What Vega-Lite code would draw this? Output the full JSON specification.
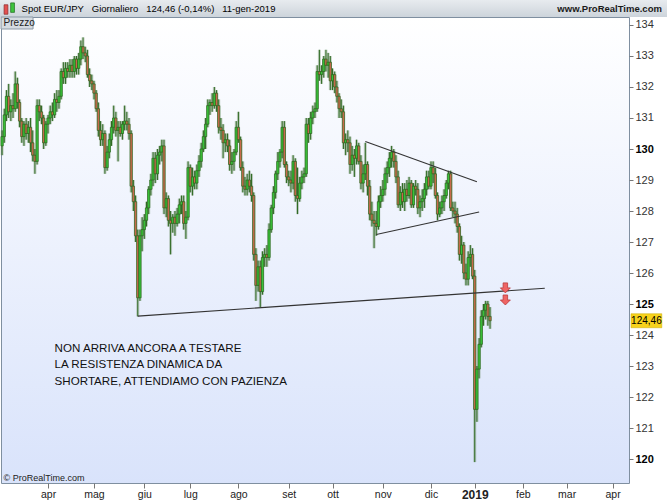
{
  "$schema": "https://vega.github.io/schema/vega-lite/v6.json",
  "width": 628,
  "height": 466,
  "autosize": {"type": "none"},
  "padding": {"left": 1, "top": 17, "right": 38, "bottom": 17},
  "background": "#ffffff",
  "config": {
    "font": "Liberation Sans",
    "view": {
      "stroke": "#7f8fa0",
      "strokeWidth": 1,
      "fill": {"gradient": "linear", "x1": 0, "y1": 0, "x2": 0, "y2": 1, "stops": [{"offset": 0, "color": "#ffffff"}, {"offset": 1, "color": "#d9e3fb"}]}
    }
  },
  "datasets": {
    "ohlc": [
      {"d":"2018-03-02","o":130.1,"h":130.6,"l":129.8,"c":130.4},
      {"d":"2018-03-05","o":130.4,"h":131.3,"l":130.2,"c":131.1},
      {"d":"2018-03-06","o":131.1,"h":131.9,"l":130.9,"c":131.7},
      {"d":"2018-03-07","o":131.7,"h":132.1,"l":131.0,"c":131.2},
      {"d":"2018-03-08","o":131.2,"h":131.6,"l":130.9,"c":131.4},
      {"d":"2018-03-09","o":131.4,"h":131.8,"l":131.0,"c":131.3},
      {"d":"2018-03-12","o":131.3,"h":132.5,"l":131.2,"c":132.1},
      {"d":"2018-03-13","o":132.1,"h":132.3,"l":131.3,"c":131.5},
      {"d":"2018-03-14","o":131.5,"h":131.6,"l":130.7,"c":130.9},
      {"d":"2018-03-15","o":130.9,"h":131.0,"l":130.2,"c":130.4},
      {"d":"2018-03-16","o":130.4,"h":130.9,"l":130.1,"c":130.8},
      {"d":"2018-03-19","o":130.8,"h":131.0,"l":130.3,"c":130.5},
      {"d":"2018-03-20","o":130.5,"h":130.9,"l":130.2,"c":130.7},
      {"d":"2018-03-21","o":130.7,"h":131.0,"l":129.9,"c":130.2},
      {"d":"2018-03-22","o":130.2,"h":130.6,"l":129.6,"c":129.8},
      {"d":"2018-03-23","o":129.8,"h":130.0,"l":129.2,"c":129.6},
      {"d":"2018-03-26","o":129.6,"h":131.6,"l":129.5,"c":131.4},
      {"d":"2018-03-27","o":131.4,"h":131.6,"l":130.9,"c":131.2},
      {"d":"2018-03-28","o":131.2,"h":131.4,"l":130.8,"c":131.0},
      {"d":"2018-03-29","o":131.0,"h":131.1,"l":130.0,"c":130.2},
      {"d":"2018-03-30","o":130.2,"h":130.9,"l":130.1,"c":130.8},
      {"d":"2018-04-02","o":130.8,"h":131.1,"l":130.5,"c":131.0},
      {"d":"2018-04-03","o":131.0,"h":131.4,"l":130.8,"c":131.2},
      {"d":"2018-04-04","o":131.2,"h":131.5,"l":130.9,"c":131.1},
      {"d":"2018-04-05","o":131.1,"h":131.8,"l":131.0,"c":131.6},
      {"d":"2018-04-06","o":131.6,"h":131.9,"l":131.2,"c":131.5},
      {"d":"2018-04-09","o":131.5,"h":131.9,"l":131.3,"c":131.7},
      {"d":"2018-04-10","o":131.7,"h":132.6,"l":131.6,"c":132.5},
      {"d":"2018-04-11","o":132.5,"h":132.8,"l":132.1,"c":132.3},
      {"d":"2018-04-12","o":132.3,"h":132.8,"l":132.1,"c":132.6},
      {"d":"2018-04-13","o":132.6,"h":132.8,"l":132.3,"c":132.5},
      {"d":"2018-04-16","o":132.5,"h":132.9,"l":132.3,"c":132.7},
      {"d":"2018-04-17","o":132.7,"h":132.9,"l":132.3,"c":132.5},
      {"d":"2018-04-18","o":132.5,"h":133.0,"l":132.3,"c":132.9},
      {"d":"2018-04-19","o":132.9,"h":133.0,"l":132.4,"c":132.6},
      {"d":"2018-04-20","o":132.6,"h":133.1,"l":132.4,"c":132.9},
      {"d":"2018-04-23","o":132.9,"h":133.5,"l":132.7,"c":133.3},
      {"d":"2018-04-24","o":133.3,"h":133.6,"l":132.9,"c":133.1},
      {"d":"2018-04-25","o":133.1,"h":133.3,"l":132.8,"c":133.0},
      {"d":"2018-04-26","o":133.0,"h":133.2,"l":132.3,"c":132.4},
      {"d":"2018-04-27","o":132.4,"h":132.6,"l":132.0,"c":132.2},
      {"d":"2018-04-30","o":132.2,"h":132.4,"l":131.9,"c":132.1},
      {"d":"2018-05-01","o":132.1,"h":132.2,"l":131.6,"c":131.8},
      {"d":"2018-05-02","o":131.8,"h":131.9,"l":131.2,"c":131.3},
      {"d":"2018-05-03","o":131.3,"h":131.5,"l":130.4,"c":130.6},
      {"d":"2018-05-04","o":130.6,"h":130.9,"l":130.1,"c":130.3},
      {"d":"2018-05-07","o":130.3,"h":130.8,"l":130.1,"c":130.5},
      {"d":"2018-05-08","o":130.5,"h":130.6,"l":129.2,"c":129.4},
      {"d":"2018-05-09","o":129.4,"h":130.1,"l":129.3,"c":129.9},
      {"d":"2018-05-10","o":129.9,"h":130.5,"l":129.7,"c":130.3},
      {"d":"2018-05-11","o":130.3,"h":130.9,"l":130.1,"c":130.7},
      {"d":"2018-05-14","o":130.7,"h":131.4,"l":130.5,"c":131.0},
      {"d":"2018-05-15","o":131.0,"h":131.2,"l":130.4,"c":130.6},
      {"d":"2018-05-16","o":130.6,"h":130.9,"l":129.6,"c":130.7},
      {"d":"2018-05-17","o":130.7,"h":130.9,"l":130.4,"c":130.5},
      {"d":"2018-05-18","o":130.5,"h":130.9,"l":130.3,"c":130.8},
      {"d":"2018-05-21","o":130.8,"h":131.4,"l":130.6,"c":130.9},
      {"d":"2018-05-22","o":130.9,"h":131.2,"l":130.6,"c":130.8},
      {"d":"2018-05-23","o":130.8,"h":131.0,"l":130.3,"c":130.5},
      {"d":"2018-05-24","o":130.5,"h":130.6,"l":128.6,"c":128.8},
      {"d":"2018-05-25","o":128.8,"h":129.0,"l":128.0,"c":128.3},
      {"d":"2018-05-28","o":128.3,"h":128.5,"l":127.0,"c":127.2},
      {"d":"2018-05-29","o":127.2,"h":127.4,"l":124.6,"c":125.2},
      {"d":"2018-05-30","o":125.2,"h":127.4,"l":125.1,"c":127.2},
      {"d":"2018-05-31","o":127.2,"h":127.8,"l":126.7,"c":127.4},
      {"d":"2018-06-01","o":127.4,"h":127.9,"l":127.1,"c":127.7},
      {"d":"2018-06-04","o":127.7,"h":128.3,"l":127.5,"c":128.1},
      {"d":"2018-06-05","o":128.1,"h":128.8,"l":127.9,"c":128.7},
      {"d":"2018-06-06","o":128.7,"h":129.2,"l":128.5,"c":129.0},
      {"d":"2018-06-07","o":129.0,"h":129.9,"l":128.8,"c":129.7},
      {"d":"2018-06-08","o":129.7,"h":129.9,"l":128.9,"c":129.2},
      {"d":"2018-06-11","o":129.2,"h":130.0,"l":129.0,"c":129.8},
      {"d":"2018-06-12","o":129.8,"h":130.1,"l":129.5,"c":129.9},
      {"d":"2018-06-13","o":129.9,"h":130.3,"l":129.6,"c":130.1},
      {"d":"2018-06-14","o":130.1,"h":130.3,"l":127.9,"c":128.1},
      {"d":"2018-06-15","o":128.1,"h":128.6,"l":127.8,"c":128.4},
      {"d":"2018-06-18","o":128.4,"h":128.5,"l":127.5,"c":127.7},
      {"d":"2018-06-19","o":127.7,"h":128.0,"l":126.6,"c":127.6},
      {"d":"2018-06-20","o":127.6,"h":127.9,"l":127.3,"c":127.8},
      {"d":"2018-06-21","o":127.8,"h":128.0,"l":127.2,"c":127.6},
      {"d":"2018-06-22","o":127.6,"h":128.1,"l":127.5,"c":127.9},
      {"d":"2018-06-25","o":127.9,"h":128.4,"l":127.6,"c":128.2},
      {"d":"2018-06-26","o":128.2,"h":128.5,"l":127.9,"c":128.3},
      {"d":"2018-06-27","o":128.3,"h":128.5,"l":127.4,"c":127.6},
      {"d":"2018-06-28","o":127.6,"h":128.0,"l":127.1,"c":127.8},
      {"d":"2018-06-29","o":127.8,"h":129.6,"l":127.7,"c":129.4},
      {"d":"2018-07-02","o":129.4,"h":129.5,"l":128.6,"c":128.8},
      {"d":"2018-07-03","o":128.8,"h":129.4,"l":128.5,"c":129.1},
      {"d":"2018-07-04","o":129.1,"h":129.3,"l":128.7,"c":128.9},
      {"d":"2018-07-05","o":128.9,"h":129.5,"l":128.7,"c":129.3},
      {"d":"2018-07-06","o":129.3,"h":129.8,"l":129.1,"c":129.6},
      {"d":"2018-07-09","o":129.6,"h":130.2,"l":129.4,"c":130.0},
      {"d":"2018-07-10","o":130.0,"h":130.6,"l":129.9,"c":130.4},
      {"d":"2018-07-11","o":130.4,"h":131.0,"l":130.0,"c":130.8},
      {"d":"2018-07-12","o":130.8,"h":131.6,"l":130.7,"c":131.4},
      {"d":"2018-07-13","o":131.4,"h":131.6,"l":131.1,"c":131.5},
      {"d":"2018-07-16","o":131.5,"h":131.8,"l":131.2,"c":131.4},
      {"d":"2018-07-17","o":131.4,"h":132.0,"l":131.3,"c":131.8},
      {"d":"2018-07-18","o":131.8,"h":131.9,"l":131.2,"c":131.4},
      {"d":"2018-07-19","o":131.4,"h":131.6,"l":130.5,"c":130.7},
      {"d":"2018-07-20","o":130.7,"h":131.0,"l":130.3,"c":130.6},
      {"d":"2018-07-23","o":130.6,"h":130.8,"l":129.7,"c":130.2},
      {"d":"2018-07-24","o":130.2,"h":130.5,"l":129.9,"c":130.3},
      {"d":"2018-07-25","o":130.3,"h":130.5,"l":129.9,"c":130.1},
      {"d":"2018-07-26","o":130.1,"h":130.3,"l":129.3,"c":129.5},
      {"d":"2018-07-27","o":129.5,"h":129.9,"l":129.2,"c":129.6},
      {"d":"2018-07-30","o":129.6,"h":130.0,"l":129.3,"c":129.9},
      {"d":"2018-07-31","o":129.9,"h":130.9,"l":129.8,"c":130.7},
      {"d":"2018-08-01","o":130.7,"h":131.2,"l":130.2,"c":130.3},
      {"d":"2018-08-02","o":130.3,"h":130.4,"l":129.3,"c":129.4},
      {"d":"2018-08-03","o":129.4,"h":129.6,"l":128.6,"c":128.8},
      {"d":"2018-08-06","o":128.8,"h":129.1,"l":128.5,"c":128.7},
      {"d":"2018-08-07","o":128.7,"h":129.2,"l":128.5,"c":129.0},
      {"d":"2018-08-08","o":129.0,"h":129.3,"l":128.6,"c":128.8},
      {"d":"2018-08-09","o":128.8,"h":129.2,"l":128.3,"c":128.5},
      {"d":"2018-08-10","o":128.5,"h":128.6,"l":126.4,"c":126.6},
      {"d":"2018-08-13","o":126.6,"h":126.8,"l":125.1,"c":125.6},
      {"d":"2018-08-14","o":125.6,"h":126.4,"l":125.4,"c":126.2},
      {"d":"2018-08-15","o":126.2,"h":126.4,"l":124.9,"c":125.4},
      {"d":"2018-08-16","o":125.4,"h":126.7,"l":125.3,"c":126.5},
      {"d":"2018-08-17","o":126.5,"h":126.8,"l":126.2,"c":126.6},
      {"d":"2018-08-20","o":126.6,"h":126.9,"l":126.2,"c":126.5},
      {"d":"2018-08-21","o":126.5,"h":127.6,"l":126.4,"c":127.4},
      {"d":"2018-08-22","o":127.4,"h":128.2,"l":127.3,"c":128.1},
      {"d":"2018-08-23","o":128.1,"h":128.8,"l":127.9,"c":128.6},
      {"d":"2018-08-24","o":128.6,"h":129.3,"l":128.4,"c":129.2},
      {"d":"2018-08-27","o":129.2,"h":129.9,"l":129.0,"c":129.6},
      {"d":"2018-08-28","o":129.6,"h":130.0,"l":129.4,"c":129.9},
      {"d":"2018-08-29","o":129.9,"h":130.9,"l":129.7,"c":130.7},
      {"d":"2018-08-30","o":130.7,"h":130.9,"l":129.4,"c":129.5},
      {"d":"2018-08-31","o":129.5,"h":129.6,"l":128.9,"c":129.1},
      {"d":"2018-09-03","o":129.1,"h":129.3,"l":128.8,"c":129.0},
      {"d":"2018-09-04","o":129.0,"h":129.3,"l":128.6,"c":128.9},
      {"d":"2018-09-05","o":128.9,"h":129.8,"l":128.7,"c":129.6},
      {"d":"2018-09-06","o":129.6,"h":129.7,"l":128.3,"c":128.5},
      {"d":"2018-09-07","o":128.5,"h":129.4,"l":127.9,"c":128.4},
      {"d":"2018-09-10","o":128.4,"h":129.1,"l":128.3,"c":128.9},
      {"d":"2018-09-11","o":128.9,"h":129.3,"l":128.7,"c":129.1},
      {"d":"2018-09-12","o":129.1,"h":129.4,"l":128.9,"c":129.2},
      {"d":"2018-09-13","o":129.2,"h":131.0,"l":129.1,"c":130.8},
      {"d":"2018-09-14","o":130.8,"h":131.0,"l":130.2,"c":130.5},
      {"d":"2018-09-17","o":130.5,"h":131.2,"l":130.3,"c":131.0},
      {"d":"2018-09-18","o":131.0,"h":131.4,"l":130.8,"c":131.2},
      {"d":"2018-09-19","o":131.2,"h":131.5,"l":131.0,"c":131.3},
      {"d":"2018-09-20","o":131.3,"h":132.7,"l":131.2,"c":132.5},
      {"d":"2018-09-21","o":132.5,"h":133.2,"l":132.2,"c":132.4},
      {"d":"2018-09-24","o":132.4,"h":132.7,"l":132.1,"c":132.5},
      {"d":"2018-09-25","o":132.5,"h":133.0,"l":132.3,"c":132.9},
      {"d":"2018-09-26","o":132.9,"h":133.2,"l":132.5,"c":132.7},
      {"d":"2018-09-27","o":132.7,"h":133.1,"l":132.3,"c":132.8},
      {"d":"2018-09-28","o":132.8,"h":133.0,"l":131.9,"c":132.2},
      {"d":"2018-10-01","o":132.2,"h":132.6,"l":131.9,"c":132.4},
      {"d":"2018-10-02","o":132.4,"h":132.5,"l":131.8,"c":132.0},
      {"d":"2018-10-03","o":132.0,"h":132.2,"l":131.5,"c":131.7},
      {"d":"2018-10-04","o":131.7,"h":131.8,"l":131.0,"c":131.3},
      {"d":"2018-10-05","o":131.3,"h":131.6,"l":131.0,"c":131.2},
      {"d":"2018-10-08","o":131.2,"h":131.4,"l":130.0,"c":130.2},
      {"d":"2018-10-09","o":130.2,"h":130.5,"l":129.8,"c":130.3},
      {"d":"2018-10-10","o":130.3,"h":130.6,"l":129.9,"c":130.2},
      {"d":"2018-10-11","o":130.2,"h":130.4,"l":129.2,"c":129.5},
      {"d":"2018-10-12","o":129.5,"h":130.1,"l":129.3,"c":129.8},
      {"d":"2018-10-15","o":129.8,"h":130.0,"l":129.1,"c":129.7},
      {"d":"2018-10-16","o":129.7,"h":130.3,"l":129.5,"c":130.1},
      {"d":"2018-10-17","o":130.1,"h":130.2,"l":129.5,"c":129.6},
      {"d":"2018-10-18","o":129.6,"h":129.8,"l":128.7,"c":128.9},
      {"d":"2018-10-19","o":128.9,"h":129.5,"l":128.6,"c":129.2},
      {"d":"2018-10-22","o":129.2,"h":130.2,"l":129.0,"c":129.5},
      {"d":"2018-10-23","o":129.5,"h":129.6,"l":128.5,"c":128.8},
      {"d":"2018-10-24","o":128.8,"h":129.0,"l":127.7,"c":127.9},
      {"d":"2018-10-25","o":127.9,"h":128.3,"l":127.5,"c":127.7},
      {"d":"2018-10-26","o":127.7,"h":128.0,"l":126.8,"c":127.6},
      {"d":"2018-10-29","o":127.6,"h":128.0,"l":127.2,"c":127.5},
      {"d":"2018-10-30","o":127.5,"h":128.5,"l":127.4,"c":128.3},
      {"d":"2018-10-31","o":128.3,"h":128.8,"l":128.1,"c":128.5},
      {"d":"2018-11-01","o":128.5,"h":129.0,"l":128.3,"c":128.7},
      {"d":"2018-11-02","o":128.7,"h":129.4,"l":128.5,"c":129.2},
      {"d":"2018-11-05","o":129.2,"h":129.6,"l":128.9,"c":129.4},
      {"d":"2018-11-06","o":129.4,"h":129.9,"l":129.1,"c":129.7},
      {"d":"2018-11-07","o":129.7,"h":130.1,"l":129.4,"c":129.9},
      {"d":"2018-11-08","o":129.9,"h":130.0,"l":129.4,"c":129.6},
      {"d":"2018-11-09","o":129.6,"h":129.8,"l":128.9,"c":129.1},
      {"d":"2018-11-12","o":129.1,"h":129.3,"l":128.1,"c":128.2},
      {"d":"2018-11-13","o":128.2,"h":128.8,"l":128.0,"c":128.6},
      {"d":"2018-11-14","o":128.6,"h":128.9,"l":128.1,"c":128.3},
      {"d":"2018-11-15","o":128.3,"h":128.9,"l":128.0,"c":128.7},
      {"d":"2018-11-16","o":128.7,"h":129.0,"l":128.3,"c":128.5},
      {"d":"2018-11-19","o":128.5,"h":129.1,"l":128.4,"c":128.9},
      {"d":"2018-11-20","o":128.9,"h":129.0,"l":128.1,"c":128.2},
      {"d":"2018-11-21","o":128.2,"h":128.9,"l":128.1,"c":128.8},
      {"d":"2018-11-22","o":128.8,"h":129.0,"l":128.5,"c":128.7},
      {"d":"2018-11-23","o":128.7,"h":128.9,"l":127.9,"c":128.1},
      {"d":"2018-11-26","o":128.1,"h":128.5,"l":127.8,"c":128.3},
      {"d":"2018-11-27","o":128.3,"h":128.7,"l":128.0,"c":128.4},
      {"d":"2018-11-28","o":128.4,"h":128.9,"l":128.1,"c":128.7},
      {"d":"2018-11-29","o":128.7,"h":129.3,"l":128.5,"c":129.1},
      {"d":"2018-11-30","o":129.1,"h":129.3,"l":128.7,"c":128.8},
      {"d":"2018-12-03","o":128.8,"h":129.6,"l":128.7,"c":129.4},
      {"d":"2018-12-04","o":129.4,"h":129.6,"l":128.9,"c":129.2},
      {"d":"2018-12-05","o":129.2,"h":129.4,"l":128.4,"c":128.5},
      {"d":"2018-12-06","o":128.5,"h":128.6,"l":127.7,"c":127.9},
      {"d":"2018-12-07","o":127.9,"h":128.3,"l":127.8,"c":128.1},
      {"d":"2018-12-10","o":128.1,"h":128.5,"l":127.9,"c":128.3},
      {"d":"2018-12-11","o":128.3,"h":128.7,"l":128.0,"c":128.5},
      {"d":"2018-12-12","o":128.5,"h":129.0,"l":128.4,"c":128.9},
      {"d":"2018-12-13","o":128.9,"h":129.3,"l":128.7,"c":129.2},
      {"d":"2018-12-14","o":129.2,"h":129.3,"l":128.0,"c":128.1},
      {"d":"2018-12-17","o":128.1,"h":128.3,"l":127.8,"c":128.0},
      {"d":"2018-12-18","o":128.0,"h":128.3,"l":127.6,"c":127.9},
      {"d":"2018-12-19","o":127.9,"h":128.1,"l":127.3,"c":127.5},
      {"d":"2018-12-20","o":127.5,"h":127.6,"l":126.4,"c":126.6},
      {"d":"2018-12-21","o":126.6,"h":127.2,"l":126.3,"c":126.9},
      {"d":"2018-12-24","o":126.9,"h":127.0,"l":125.8,"c":126.0},
      {"d":"2018-12-26","o":126.0,"h":126.3,"l":125.6,"c":125.8},
      {"d":"2018-12-27","o":125.8,"h":126.7,"l":125.6,"c":126.5},
      {"d":"2018-12-28","o":126.5,"h":126.9,"l":126.2,"c":126.6},
      {"d":"2018-12-31","o":126.6,"h":126.8,"l":125.8,"c":125.9},
      {"d":"2019-01-02","o":125.9,"h":126.1,"l":119.9,"c":121.6},
      {"d":"2019-01-03","o":121.6,"h":123.0,"l":121.2,"c":122.9},
      {"d":"2019-01-04","o":122.9,"h":123.9,"l":122.6,"c":123.7},
      {"d":"2019-01-07","o":123.7,"h":124.8,"l":123.6,"c":124.6},
      {"d":"2019-01-08","o":124.6,"h":125.0,"l":124.3,"c":124.8},
      {"d":"2019-01-09","o":124.8,"h":125.1,"l":124.5,"c":125.0},
      {"d":"2019-01-10","o":125.0,"h":125.1,"l":124.3,"c":124.6},
      {"d":"2019-01-11","o":124.6,"h":124.9,"l":124.2,"c":124.46}
    ],
    "lines": [
      {"g":"supporto","d":"2018-05-29","p":124.61},
      {"g":"supporto","d":"2019-02-15","p":125.51},
      {"g":"alto","d":"2018-10-22","p":130.24},
      {"g":"alto","d":"2019-01-03","p":128.945},
      {"g":"basso","d":"2018-10-29","p":127.24},
      {"g":"basso","d":"2019-01-04","p":127.97}
    ],
    "arrows": [
      {"d":"2019-01-22","p":125.52},
      {"d":"2019-01-22","p":125.13}
    ]
  },
  "encoding": {
    "x": {
      "field": "d",
      "type": "ordinal",
      "scale": {
        "type": "point",
        "padding": 0.5,
        "domain": [
          "2018-03-02","2018-03-05","2018-03-06","2018-03-07","2018-03-08","2018-03-09","2018-03-12","2018-03-13","2018-03-14","2018-03-15","2018-03-16","2018-03-19","2018-03-20","2018-03-21","2018-03-22","2018-03-23","2018-03-26","2018-03-27","2018-03-28","2018-03-29","2018-03-30",
          "2018-04-02","2018-04-03","2018-04-04","2018-04-05","2018-04-06","2018-04-09","2018-04-10","2018-04-11","2018-04-12","2018-04-13","2018-04-16","2018-04-17","2018-04-18","2018-04-19","2018-04-20","2018-04-23","2018-04-24","2018-04-25","2018-04-26","2018-04-27","2018-04-30",
          "2018-05-01","2018-05-02","2018-05-03","2018-05-04","2018-05-07","2018-05-08","2018-05-09","2018-05-10","2018-05-11","2018-05-14","2018-05-15","2018-05-16","2018-05-17","2018-05-18","2018-05-21","2018-05-22","2018-05-23","2018-05-24","2018-05-25","2018-05-28","2018-05-29","2018-05-30","2018-05-31",
          "2018-06-01","2018-06-04","2018-06-05","2018-06-06","2018-06-07","2018-06-08","2018-06-11","2018-06-12","2018-06-13","2018-06-14","2018-06-15","2018-06-18","2018-06-19","2018-06-20","2018-06-21","2018-06-22","2018-06-25","2018-06-26","2018-06-27","2018-06-28","2018-06-29",
          "2018-07-02","2018-07-03","2018-07-04","2018-07-05","2018-07-06","2018-07-09","2018-07-10","2018-07-11","2018-07-12","2018-07-13","2018-07-16","2018-07-17","2018-07-18","2018-07-19","2018-07-20","2018-07-23","2018-07-24","2018-07-25","2018-07-26","2018-07-27","2018-07-30","2018-07-31",
          "2018-08-01","2018-08-02","2018-08-03","2018-08-06","2018-08-07","2018-08-08","2018-08-09","2018-08-10","2018-08-13","2018-08-14","2018-08-15","2018-08-16","2018-08-17","2018-08-20","2018-08-21","2018-08-22","2018-08-23","2018-08-24","2018-08-27","2018-08-28","2018-08-29","2018-08-30","2018-08-31",
          "2018-09-03","2018-09-04","2018-09-05","2018-09-06","2018-09-07","2018-09-10","2018-09-11","2018-09-12","2018-09-13","2018-09-14","2018-09-17","2018-09-18","2018-09-19","2018-09-20","2018-09-21","2018-09-24","2018-09-25","2018-09-26","2018-09-27","2018-09-28",
          "2018-10-01","2018-10-02","2018-10-03","2018-10-04","2018-10-05","2018-10-08","2018-10-09","2018-10-10","2018-10-11","2018-10-12","2018-10-15","2018-10-16","2018-10-17","2018-10-18","2018-10-19","2018-10-22","2018-10-23","2018-10-24","2018-10-25","2018-10-26","2018-10-29","2018-10-30","2018-10-31",
          "2018-11-01","2018-11-02","2018-11-05","2018-11-06","2018-11-07","2018-11-08","2018-11-09","2018-11-12","2018-11-13","2018-11-14","2018-11-15","2018-11-16","2018-11-19","2018-11-20","2018-11-21","2018-11-22","2018-11-23","2018-11-26","2018-11-27","2018-11-28","2018-11-29","2018-11-30",
          "2018-12-03","2018-12-04","2018-12-05","2018-12-06","2018-12-07","2018-12-10","2018-12-11","2018-12-12","2018-12-13","2018-12-14","2018-12-17","2018-12-18","2018-12-19","2018-12-20","2018-12-21","2018-12-24","2018-12-26","2018-12-27","2018-12-28","2018-12-31",
          "2019-01-02","2019-01-03","2019-01-04","2019-01-07","2019-01-08","2019-01-09","2019-01-10","2019-01-11","2019-01-14","2019-01-15","2019-01-16","2019-01-17","2019-01-18","2019-01-21","2019-01-22","2019-01-23","2019-01-24","2019-01-25","2019-01-28","2019-01-29","2019-01-30","2019-01-31",
          "2019-02-01","2019-02-04","2019-02-05","2019-02-06","2019-02-07","2019-02-08","2019-02-11","2019-02-12","2019-02-13","2019-02-14","2019-02-15","2019-02-18","2019-02-19","2019-02-20","2019-02-21","2019-02-22","2019-02-25","2019-02-26","2019-02-27","2019-02-28",
          "2019-03-01","2019-03-04","2019-03-05","2019-03-06","2019-03-07","2019-03-08","2019-03-11","2019-03-12","2019-03-13","2019-03-14","2019-03-15","2019-03-18","2019-03-19","2019-03-20","2019-03-21","2019-03-22","2019-03-25","2019-03-26","2019-03-27","2019-03-28","2019-03-29",
          "2019-04-01","2019-04-02","2019-04-03","2019-04-04","2019-04-05","2019-04-08","2019-04-09","2019-04-10"
        ]
      },
      "axis": {
        "orient": "bottom",
        "values": ["2018-04-02","2018-05-01","2018-06-01","2018-07-02","2018-08-01","2018-09-03","2018-10-01","2018-11-01","2018-12-03","2019-01-02","2019-02-01","2019-03-01","2019-04-01"],
        "labelExpr": "slice(datum.value,5,7)=='01' ? slice(datum.value,0,4) : ['','gen','feb','mar','apr','mag','giu','lug','ago','set','ott','nov','dic'][toNumber(slice(datum.value,5,7))]",
        "labelFontWeight": {"condition": {"test": "slice(datum.value,5,7)=='01'", "value": "bold"}, "value": "normal"},
        "labelFontSize": {"condition": {"test": "slice(datum.value,5,7)=='01'", "value": 12}, "value": 10.5},
        "labelAngle": 0,
        "labelOverlap": false,
        "labelColor": "#222222",
        "labelPadding": 1,
        "tickSize": 5,
        "tickColor": "#777777",
        "domain": false,
        "grid": false,
        "title": null
      }
    },
    "y": {
      "field": "c",
      "type": "quantitative",
      "scale": {"domain": [119.226, 134.258], "nice": false, "zero": false},
      "axis": {
        "orient": "right",
        "values": [120,121,122,123,124,125,126,127,128,129,130,131,132,133,134],
        "format": "d",
        "labelFontSize": 11,
        "labelFontWeight": {"condition": {"test": "datum.value % 5 === 0", "value": "bold"}, "value": "normal"},
        "labelColor": {"condition": {"test": "datum.value % 5 === 0", "value": "#000000"}, "value": "#333333"},
        "labelPadding": 2,
        "tickSize": 4,
        "tickColor": "#777777",
        "domain": false,
        "grid": false,
        "title": null
      }
    }
  },
  "layer": [
    {
      "data": {"values": [{"d": "2018-03-02", "d2": "2019-04-10", "p": 134.9, "p2": 134.258}]},
      "mark": {"type": "rect", "xOffset": -4, "x2Offset": 42, "fill": {"gradient": "linear", "x1": 0, "y1": 0, "x2": 0, "y2": 1, "stops": [{"offset": 0, "color": "#eceff2"}, {"offset": 1, "color": "#cdd4db"}]}},
      "encoding": {
        "x": {"field": "d", "type": "ordinal", "scale": {"type": "point"}},
        "x2": {"field": "d2"},
        "y": {"field": "p", "type": "quantitative", "scale": {"domain": [119.226, 134.258], "nice": false, "zero": false}},
        "y2": {"field": "p2"}
      }
    },
    {
      "data": {"values": [
        {"d": "2018-03-05", "p": 134.50, "k": "giù"},
        {"d": "2018-03-08", "p": 134.56, "k": "su"}
      ]},
      "mark": {"type": "point", "shape": "M-0.4,-1L0.4,-1L0.4,1L-0.4,1Z", "size": 90, "filled": true, "strokeWidth": 0.7, "opacity": 1, "xOffset": 1.7},
      "encoding": {
        "x": {"field": "d", "type": "ordinal", "scale": {"type": "point"}},
        "y": {"field": "p", "type": "quantitative", "scale": {"domain": [119.226, 134.258], "nice": false, "zero": false}},
        "fill": {"field": "k", "type": "nominal", "scale": {"domain": ["giù", "su"], "range": ["#e35050", "#3fc43f"]}, "legend": null},
        "stroke": {"field": "k", "type": "nominal", "scale": {"domain": ["giù", "su"], "range": ["#8a2a2a", "#1f6a1f"]}, "legend": null}
      }
    },
    {
      "data": {"values": [
        {"d": "2018-03-14", "p": 134.53, "t": "Spot EUR/JPY\u00a0\u00a0\u00a0Giornaliero\u00a0\u00a0\u00a0124,46 (-0,14%)\u00a0\u00a0\u00a011-gen-2019"}
      ]},
      "mark": {"type": "text", "align": "left", "baseline": "middle", "dx": 2, "fontSize": 9.5, "fontWeight": "normal", "color": "#000000"},
      "encoding": {
        "x": {"field": "d", "type": "ordinal", "scale": {"type": "point"}},
        "y": {"field": "p", "type": "quantitative", "scale": {"domain": [119.226, 134.258], "nice": false, "zero": false}},
        "text": {"field": "t"}
      }
    },
    {
      "data": {"values": [{"d": "2019-04-10", "p": 134.53, "t": "www.ProRealTime.com"}]},
      "mark": {"type": "text", "align": "right", "baseline": "middle", "dx": 34, "fontSize": 9.5, "fontWeight": "bold", "color": "#1a1a1a"},
      "encoding": {
        "x": {"field": "d", "type": "ordinal", "scale": {"type": "point"}},
        "y": {"field": "p", "type": "quantitative", "scale": {"domain": [119.226, 134.258], "nice": false, "zero": false}},
        "text": {"field": "t"}
      }
    },
    {
      "data": {"name": "ohlc"},
      "mark": {"type": "rule", "color": "#6f8f66", "strokeWidth": 3, "opacity": 0.4},
      "encoding": {
        "y": {"field": "l", "type": "quantitative", "scale": {"domain": [119.226, 134.258], "nice": false, "zero": false}},
        "y2": {"field": "h"}
      }
    },
    {
      "data": {"name": "ohlc"},
      "mark": {"type": "rule", "color": "#2f6a23", "strokeWidth": 1},
      "encoding": {
        "y": {"field": "l", "type": "quantitative", "scale": {"domain": [119.226, 134.258], "nice": false, "zero": false}},
        "y2": {"field": "h"}
      }
    },
    {
      "data": {"name": "ohlc"},
      "mark": {"type": "bar", "width": 2.3, "stroke": "#2a641d", "strokeWidth": 0.7},
      "encoding": {
        "y": {"field": "o", "type": "quantitative", "scale": {"domain": [119.226, 134.258], "nice": false, "zero": false}},
        "y2": {"field": "c"},
        "fill": {"condition": {"test": "datum.c >= datum.o", "value": "#39c239"}, "value": "#c76a4c"}
      }
    },
    {
      "data": {"name": "lines"},
      "mark": {"type": "line", "color": "#333333", "strokeWidth": 1.1},
      "encoding": {
        "x": {"field": "d", "type": "ordinal", "scale": {"type": "point"}},
        "y": {"field": "p", "type": "quantitative", "scale": {"domain": [119.226, 134.258], "nice": false, "zero": false}},
        "detail": {"field": "g"}
      }
    },
    {
      "data": {"name": "arrows"},
      "mark": {"type": "point", "shape": "M-0.45,-1L0.45,-1L0.45,0L1,0L0,1L-1,0L-0.45,0Z", "size": 100, "filled": true, "fill": "#ef6464", "stroke": "#b83a3a", "strokeWidth": 0.8, "opacity": 1},
      "encoding": {
        "x": {"field": "d", "type": "ordinal", "scale": {"type": "point"}},
        "y": {"field": "p", "type": "quantitative", "scale": {"domain": [119.226, 134.258], "nice": false, "zero": false}}
      }
    },
    {
      "data": {"values": [
        {"d": "2018-04-05", "p": 123.75, "t": ["NON ARRIVA ANCORA A TESTARE", "LA RESISTENZA DINAMICA DA", "SHORTARE, ATTENDIAMO CON PAZIENZA"]}
      ]},
      "mark": {"type": "text", "align": "left", "baseline": "top", "fontSize": 11.6, "lineHeight": 16.5, "color": "#111111"},
      "encoding": {
        "x": {"field": "d", "type": "ordinal", "scale": {"type": "point"}},
        "y": {"field": "p", "type": "quantitative", "scale": {"domain": [119.226, 134.258], "nice": false, "zero": false}},
        "text": {"field": "t"}
      }
    },
    {
      "data": {"values": [{"d": "2018-03-09", "p": 134.064}]},
      "mark": {"type": "point", "shape": "M-2.667,-1L2.667,-1L2.667,1L-2.667,1Z", "size": 144, "filled": true, "fill": "#d5dbe1", "stroke": "#8d9aa7", "strokeWidth": 1, "opacity": 1, "xOffset": 4},
      "encoding": {
        "x": {"field": "d", "type": "ordinal", "scale": {"type": "point"}},
        "y": {"field": "p", "type": "quantitative", "scale": {"domain": [119.226, 134.258], "nice": false, "zero": false}}
      }
    },
    {
      "data": {"values": [
        {"d": "2018-03-02", "p": 134.064, "t": "Prezzo", "s": 10},
        {"d": "2018-03-02", "p": 119.39, "t": "© ProRealTime.com", "s": 9}
      ]},
      "mark": {"type": "text", "align": "left", "baseline": "middle", "dx": 1.5, "color": "#222222"},
      "encoding": {
        "x": {"field": "d", "type": "ordinal", "scale": {"type": "point"}},
        "y": {"field": "p", "type": "quantitative", "scale": {"domain": [119.226, 134.258], "nice": false, "zero": false}},
        "text": {"field": "t"},
        "size": {"field": "s", "type": "quantitative", "scale": null}
      }
    },
    {
      "data": {"values": [{"d": "2019-04-10", "p": 124.46}]},
      "mark": {"type": "point", "shape": "M-2.2,-1L2.2,-1L2.2,1L-2.2,1Z", "size": 196, "filled": true, "fill": "#f7d21c", "stroke": "#c9a800", "strokeWidth": 0.5, "opacity": 1, "xOffset": 18.5},
      "encoding": {
        "x": {"field": "d", "type": "ordinal", "scale": {"type": "point"}},
        "y": {"field": "p", "type": "quantitative", "scale": {"domain": [119.226, 134.258], "nice": false, "zero": false}}
      }
    },
    {
      "data": {"values": [{"d": "2019-04-10", "p": 124.46, "t": "124,46"}]},
      "mark": {"type": "text", "align": "center", "baseline": "middle", "dx": 18.5, "fontSize": 10, "color": "#000000"},
      "encoding": {
        "x": {"field": "d", "type": "ordinal", "scale": {"type": "point"}},
        "y": {"field": "p", "type": "quantitative", "scale": {"domain": [119.226, 134.258], "nice": false, "zero": false}},
        "text": {"field": "t"}
      }
    }
  ]
}
